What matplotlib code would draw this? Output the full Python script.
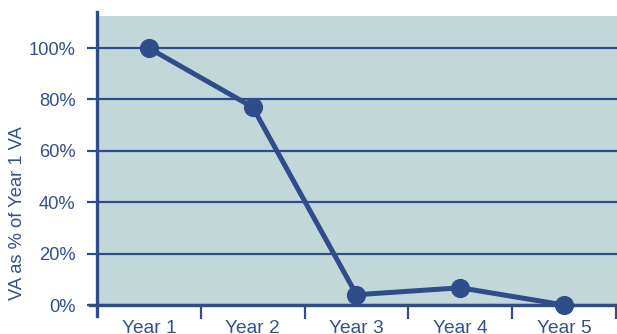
import matplotlib.pyplot as plt
from matplotlib.ticker import FixedLocator

# Data
years = ["Year 1", "Year 2", "Year 3", "Year 4", "Year 5"]
va_pct = [100, 77, 4, 6.7, 0]
yticks = [0, 20, 40, 60, 80, 100]

navy = "#2f4d8a"
text_col = "#34508e"
bg = "#c0d8d8"

plt.rcParams['font.family'] = ['Liberation Sans', 'DejaVu Sans']

fig = plt.figure(figsize=(6.17, 3.34), dpi=100)
ax = fig.add_axes([97 / 617, 29 / 334, 520 / 617, 289 / 334])
ax.set_facecolor(bg)

x = list(range(1, len(years) + 1))
ax.plot(x, va_pct, color=navy, lw=3.6, marker="o", ms=12.8, clip_on=False, zorder=5)

ax.set_xlim(0.5, 5.51)
ax.set_ylim(0, 112.5)

# horizontal grid lines
ax.set_yticks(yticks)
ax.set_yticklabels([f"{v}%" for v in yticks])
ax.grid(axis="y", color=navy, lw=1.6)
ax.set_axisbelow(True)
ax.tick_params(axis="y", length=7, width=1.6, color=navy, pad=8.5,
               labelsize=13.2, labelcolor=text_col)

# category labels centred, tick marks between categories
ax.set_xticks(x)
ax.set_xticklabels(years)
ax.tick_params(axis="x", which="major", length=0, pad=11,
               labelsize=13.8, labelcolor=text_col)
ax.xaxis.set_minor_locator(FixedLocator([1.5, 2.5, 3.5, 4.5, 5.5]))
ax.tick_params(axis="x", which="minor", length=10, width=1.6, color=navy)

for s in ["top", "right", "left"]:
    ax.spines[s].set_visible(False)
ax.spines["bottom"].set_color(navy)
ax.spines["bottom"].set_linewidth(2.4)
ax.spines["bottom"].set_bounds(0.43, 5.51)

# left axis line extends a bit past the plot area
ax.plot([0, 0], [-0.038, 1.014], transform=ax.transAxes, color=navy,
        lw=2.4, clip_on=False, zorder=6)

ax.set_ylabel("VA as % of Year 1 VA", fontsize=13.2, color=text_col)
ax.yaxis.set_label_coords(-0.137, 0.318)

fig.savefig("out.png", dpi=100)
